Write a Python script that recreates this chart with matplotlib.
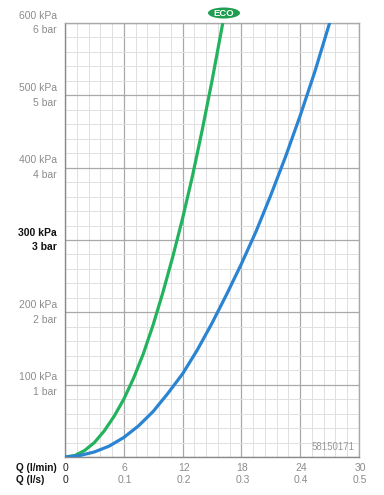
import matplotlib
matplotlib.use("Agg")
import matplotlib.pyplot as plt
import matplotlib.transforms as mtransforms
from matplotlib.patches import Ellipse

plt.rcParams['font.family'] = ['Liberation Sans', 'DejaVu Sans']

# Data (Q in l/min, pressure in kPa)
eco_q = [0, 1, 2, 3, 4, 5, 6, 7, 8, 9, 10, 11, 12, 13, 14, 15, 16.1]
eco_p = [0, 2, 9, 20, 36, 56, 80, 109, 143, 183, 228, 277, 330, 388, 452, 520, 600]
std_q = [0, 1.5, 3, 4.5, 6, 7.5, 9, 10.5, 12, 13.5, 15, 16.5, 18, 19.5, 21, 22.5, 24, 25.5, 27]
std_p = [0, 2, 7, 15, 27, 43, 63, 88, 115, 148, 185, 225, 267, 312, 362, 415, 472, 533, 600]

y_ticks = [100, 200, 300, 400, 500, 600]
y_kpa = ['100 kPa', '200 kPa', '300 kPa', '400 kPa', '500 kPa', '600 kPa']
y_bar = ['1 bar', '2 bar', '3 bar', '4 bar', '5 bar', '6 bar']
x_ticks = [0, 6, 12, 18, 24, 30]
x_ls = ['0', '0.1', '0.2', '0.3', '0.4', '0.5']
code = '58150171'

green = '#23B35E'
blue = '#2A84D2'
grey_txt = '#8C8C8C'

fig = plt.figure(figsize=(3.84, 4.95), dpi=100)
ax = fig.add_axes([65/384, 38/495, 294/384, 434/495])
ax.set_xlim(0, 30)
ax.set_ylim(0, 600)

# grid
for i in range(26):
    x = i * 1.2
    major = abs(x / 6 - round(x / 6)) < 1e-6
    ax.axvline(x, color='#A9A9A9' if major else '#E0E0E0', lw=0.9 if major else 0.7, zorder=1)
for y in range(0, 601, 20):
    major = y % 100 == 0
    ax.axhline(y, color='#A9A9A9' if major else '#E0E0E0', lw=0.9 if major else 0.7, zorder=1)

for s in ax.spines.values():
    s.set_color('#A9A9A9')
    s.set_linewidth(1.0)
ax.spines['bottom'].set_color('#8A8A8A')
ax.spines['left'].set_color('#8A8A8A')

ax.plot(eco_q, eco_p, color=green, lw=2.3, solid_joinstyle='round', zorder=3)
ax.plot(std_q, std_p, color=blue, lw=2.3, solid_joinstyle='round', zorder=3)

ax.set_xticks([])
ax.set_yticks([])

# y labels
ytr = mtransforms.blended_transform_factory(ax.transAxes, ax.transData)
for v, k, b in zip(y_ticks, y_kpa, y_bar):
    bold = v == 300
    col = '#111111' if bold else grey_txt
    fw = 'bold' if bold else 'normal'
    ax.annotate(k, xy=(-0.027, v), xycoords=ytr, xytext=(0, 5.2), textcoords='offset points',
                ha='right', va='center', fontsize=7.5, color=col, fontweight=fw)
    ax.annotate(b, xy=(-0.027, v), xycoords=ytr, xytext=(0, -5.2), textcoords='offset points',
                ha='right', va='center', fontsize=7.5, color=col, fontweight=fw)

# x labels
xtr = mtransforms.blended_transform_factory(ax.transData, fig.transFigure)
for v, l in zip(x_ticks, x_ls):
    col = '#222222' if v == 0 else grey_txt
    ax.text(v + 0.1, 1 - 468/495, str(v), transform=xtr, ha='center', va='center',
            fontsize=7.5, color=col)
    ax.text(v + 0.1, 1 - 480/495, l, transform=xtr, ha='center', va='center',
            fontsize=7.5, color=col)
fig.text(16/384, 1 - 468/495, 'Q (l/min)', ha='left', va='center', fontsize=7.2,
         fontweight='bold', color='#111111')
fig.text(16/384, 1 - 480/495, 'Q (l/s)', ha='left', va='center', fontsize=7.2,
         fontweight='bold', color='#111111')

ax.text(0.985, 0.012, code, transform=ax.transAxes, ha='right', va='bottom',
        fontsize=7, color='#999999', zorder=4)

# ECO badge
fig.add_artist(Ellipse((224/384, 1 - 13/495), 32/384, 11/495, transform=fig.transFigure,
                       facecolor='#1E9E4E', edgecolor='none'))
fig.text(224/384, 1 - 13.3/495, 'ECO', ha='center', va='center', fontsize=6.8,
         fontweight='bold', color='white')

fig.savefig('out.png', dpi=100)
